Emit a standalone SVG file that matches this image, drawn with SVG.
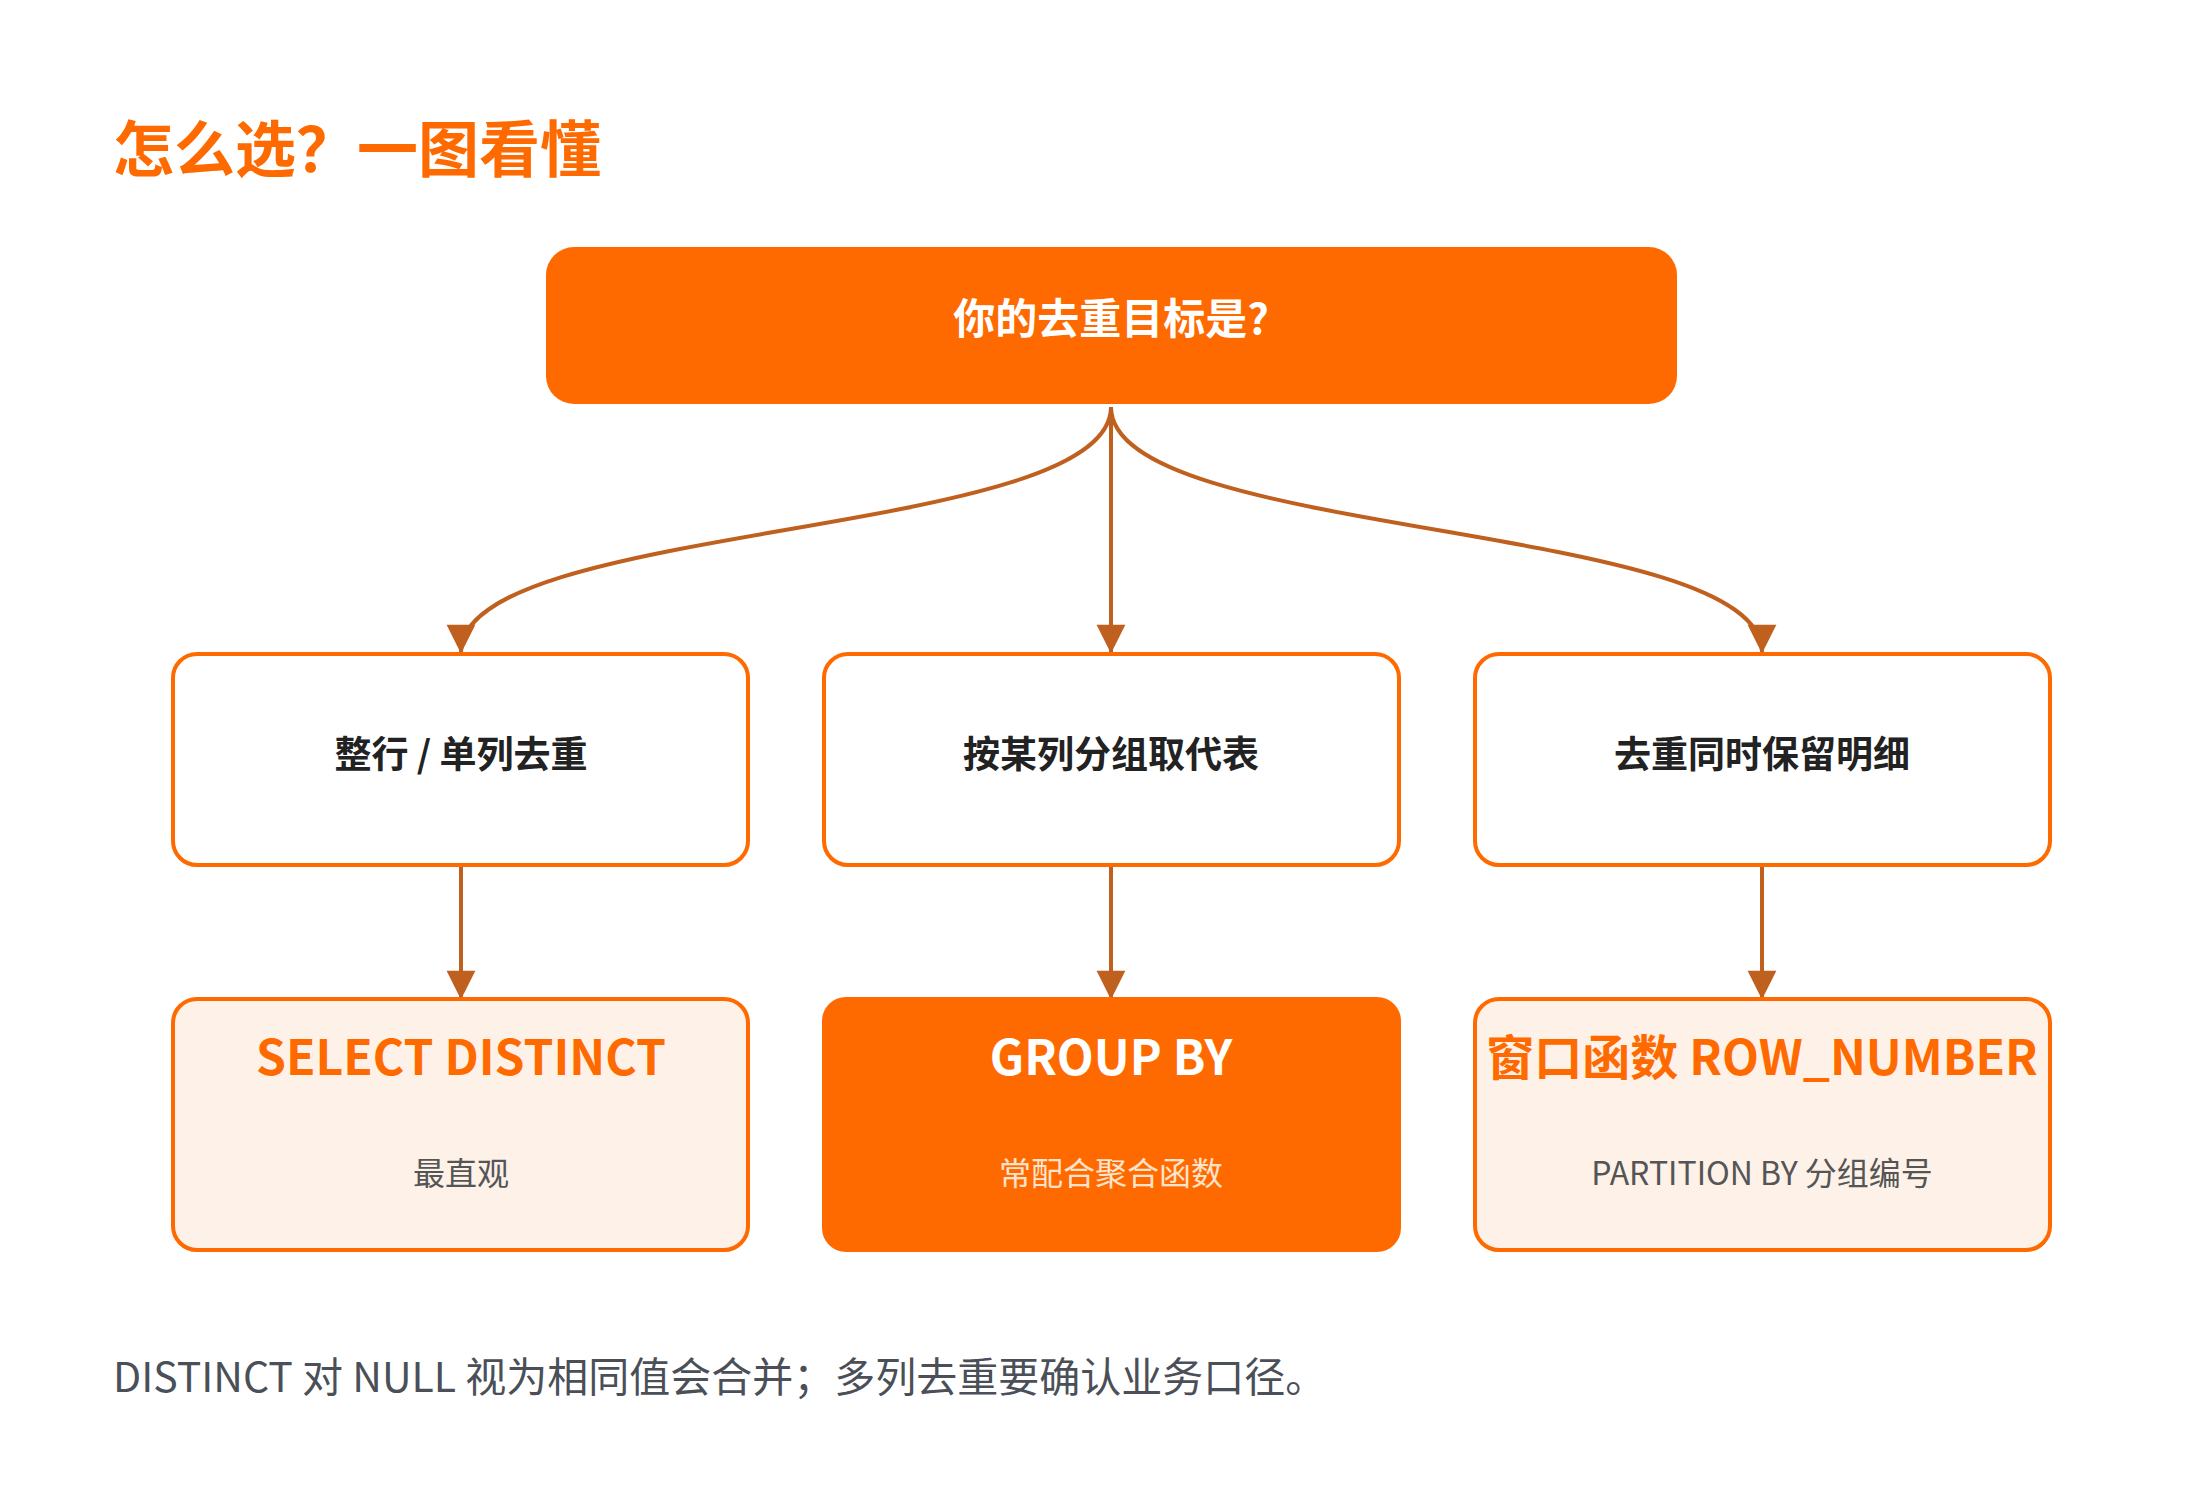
<svg xmlns="http://www.w3.org/2000/svg" width="2200" height="1488" viewBox="0 0 2200 1488">
<defs>
<style>
text{font-family:"Noto Sans CJK SC","Noto Sans",sans-serif;text-anchor:middle}
.title{font-size:61px;font-weight:700;fill:#FF6A00;text-anchor:start}
.q{font-size:42px;font-weight:700;fill:#fff}
.mid{fill:#fff;stroke:#FF6A00;stroke-width:4}
.midt{font-size:37px;font-weight:700;fill:#222}
.res{fill:#FDF1E8;stroke:#FF6A00;stroke-width:4}
.rest{font-size:48px;font-weight:700;fill:#FF6A00}
.ress{font-size:32px;fill:#555}
.conn path{fill:none;stroke:#C0601F;stroke-width:4;marker-end:url(#ah)}
</style>
<marker id="ah" viewBox="0 0 10 10" refX="9" refY="5" markerWidth="8" markerHeight="8" markerUnits="userSpaceOnUse" orient="auto" style="overflow:visible">
<path d="M0 0L10 5L0 10z" fill="#C0601F" transform="scale(3.6) translate(-7 -3.6)"/>
</marker>
</defs>
<rect width="2200" height="1488" fill="#fff"/>
<text class="title" x="113" y="172">怎么选？一图看懂</text>
<g id="root"><rect x="546" y="247" width="1131" height="157" rx="28" fill="#FF6A00"/><text class="q" x="1111" y="334">你的去重目标是?</text></g>
<g class="conn" id="connectors">
<path d="M1111 407C1111 540 461 520 461 652"/>
<path d="M1111 407L1111 652"/>
<path d="M1111 407C1111 540 1762 520 1762 652"/>
<path d="M461 865L461 998"/>
<path d="M1111 865L1111 998"/>
<path d="M1762 865L1762 998"/>
</g>
<g id="m1"><rect class="mid" x="173" y="654" width="575" height="211" rx="24"/><text class="midt" x="461" y="768">整行 / 单列去重</text></g>
<g id="m2"><rect class="mid" x="824" y="654" width="575" height="211" rx="24"/><text class="midt" x="1111" y="768">按某列分组取代表</text></g>
<g id="m3"><rect class="mid" x="1475" y="654" width="575" height="211" rx="24"/><text class="midt" x="1762" y="768">去重同时保留明细</text></g>
<g id="r1"><rect class="res" x="173" y="999" width="575" height="251" rx="24"/><text class="rest" x="461" y="1075">SELECT DISTINCT</text><text class="ress" x="461" y="1185">最直观</text></g>
<g id="r2"><rect x="822" y="997" width="579" height="255" rx="24" fill="#FF6A00"/><text class="rest" x="1111" y="1075" style="fill:#fff">GROUP BY</text><text class="ress" x="1111" y="1185" style="fill:#FFE3CC">常配合聚合函数</text></g>
<g id="r3"><rect class="res" x="1475" y="999" width="575" height="251" rx="24"/><text class="rest" x="1762" y="1075">窗口函数 ROW_NUMBER</text><text class="ress" x="1762" y="1185">PARTITION BY 分组编号</text></g>
<text x="113" y="1392" style="text-anchor:start;font-size:41px;fill:#4a4f58">DISTINCT 对 NULL 视为相同值会合并；多列去重要确认业务口径。</text>
</svg>
